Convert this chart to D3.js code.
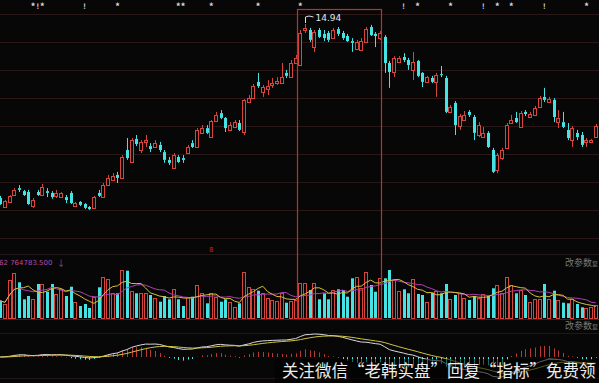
<!DOCTYPE html>
<html>
<head>
<meta charset="utf-8">
<script src="https://cdn.jsdelivr.net/npm/d3@7"></script>
<style>
  html, body { margin: 0; padding: 0; background: #070707; overflow: hidden; }
  svg { display: block; }
</style>
</head>
<body>
<main></main>
<script>
// daily candles, left to right
const opens = [9.14,8.84,9.01,9.24,9.47,9.37,9.34,8.87,9.34,9.24,9.37,9.31,9.21,9.17,9.17,9.31,8.87,9.01,8.94,8.84,
  8.81,9.31,9.17,9.57,9.74,9.91,9.81,10.74,10.34,11.11,10.74,11.01,10.87,10.84,10.91,10.67,10.41,10.14,10.51,10.47,
  10.64,10.97,10.84,11.31,11.47,11.17,11.71,11.97,11.81,11.41,11.51,11.64,11.34,12.34,12.47,13.01,12.67,12.77,12.91,12.97,
  12.97,13.31,13.17,13.64,13.57,14.74,14.74,14.17,14.74,14.61,14.64,14.47,14.77,14.64,14.54,14.37,14.11,14.07,14.34,14.84,
  14.61,14.47,14.51,13.64,13.34,13.67,13.84,13.74,13.41,13.71,13.31,13.01,13.14,13.01,13.27,13.14,12.01,12.31,11.54,11.74,
  12.01,11.84,11.24,11.17,11.31,10.74,10.07,10.47,10.81,11.64,11.81,11.51,12.01,11.84,11.91,12.17,12.51,12.34,12.41,11.67,
  11.67,11.41,11.07,11.31,11.24,11.01,11.01,11.17];
const highs = [9.21,9.07,9.24,9.47,9.57,9.41,9.41,9.14,9.41,9.61,9.47,9.37,9.41,9.34,9.24,9.37,9.01,9.04,8.97,8.87,
  9.21,9.41,9.64,9.91,9.97,10.01,10.57,11.14,11.14,11.24,11.07,11.24,10.97,11.07,11.01,10.74,10.51,10.64,10.57,10.57,
  10.91,11.07,11.47,11.57,11.57,11.74,12.01,12.07,11.84,11.67,11.74,11.74,12.44,12.57,12.94,13.31,12.91,13.07,13.14,13.17,
  13.64,13.41,13.74,13.91,14.74,14.94,14.81,14.74,14.81,14.74,14.71,14.81,14.84,14.71,14.61,14.47,14.41,14.47,14.84,14.91,
  14.67,14.71,14.57,13.71,13.87,13.87,13.97,13.81,14.01,13.74,13.34,13.21,13.21,13.31,13.54,13.21,12.24,12.37,11.94,12.04,
  12.07,11.91,11.67,11.51,11.37,10.81,10.64,10.81,11.64,11.91,12.01,12.04,12.07,12.01,12.21,12.54,12.81,12.51,12.47,12.07,
  12.01,11.64,11.54,11.41,11.34,11.14,11.11,11.61];
const lows = [8.91,8.81,8.97,9.21,9.34,9.21,8.91,8.81,9.21,9.21,9.17,9.11,9.14,9.14,8.97,8.94,8.84,8.87,8.77,8.74,
  8.77,9.17,9.14,9.54,9.71,9.64,9.81,10.41,10.31,10.87,10.64,10.84,10.67,10.81,10.67,10.31,10.24,10.11,10.31,10.31,
  10.61,10.81,10.81,11.27,11.27,11.14,11.67,11.77,11.34,11.37,11.47,11.37,11.24,12.31,12.44,12.81,12.51,12.57,12.81,12.91,
  12.94,13.14,13.14,13.61,13.54,14.64,14.34,14.01,14.47,14.37,14.34,14.44,14.54,14.41,14.34,14.01,14.07,14.04,14.31,14.54,
  14.17,14.41,13.31,12.81,13.17,13.64,13.67,13.41,13.07,13.17,12.84,12.97,12.97,12.51,13.17,11.97,11.97,11.24,11.41,11.71,
  11.84,11.07,11.17,11.14,10.81,9.97,9.97,10.41,10.77,11.61,11.64,11.47,11.87,11.81,11.87,12.14,12.34,12.31,11.67,11.47,
  11.47,11.07,10.84,11.07,10.84,10.84,10.97,11.14];
const closes = [8.94,9.04,9.21,9.41,9.41,9.24,8.94,9.07,9.24,9.51,9.31,9.17,9.31,9.31,9.07,8.97,8.97,8.91,8.81,8.77,
  9.17,9.21,9.57,9.81,9.87,9.81,10.51,10.47,11.07,10.94,11.01,11.07,10.77,10.97,10.74,10.41,10.31,10.57,10.34,10.41,
  10.84,10.84,11.41,11.47,11.31,11.71,11.91,11.81,11.47,11.57,11.67,11.41,12.41,12.47,12.87,12.87,12.84,12.87,12.97,13.04,
  13.17,13.21,13.64,13.81,14.64,14.81,14.41,14.67,14.51,14.47,14.41,14.74,14.61,14.47,14.37,14.31,14.34,14.37,14.77,14.57,
  14.54,14.64,13.64,13.34,13.81,13.81,13.74,13.57,13.67,13.21,13.01,13.17,13.01,13.24,13.24,12.01,12.17,11.57,11.87,11.91,
  11.91,11.31,11.57,11.31,10.84,10.01,10.57,10.74,11.57,11.74,11.67,11.97,11.94,11.94,12.14,12.47,12.41,12.44,11.84,11.81,
  11.51,11.14,11.47,11.17,10.91,11.07,11.07,11.54];
const volumes = [346,280,760,906,714,374,440,374,680,680,526,680,480,574,440,626,326,240,280,200,
  420,614,826,774,506,494,960,946,546,494,506,506,460,394,326,440,374,574,374,240,
  426,426,660,506,294,506,426,326,374,326,226,294,926,626,574,546,506,394,360,346,
  506,306,346,360,700,694,560,694,374,494,374,560,574,560,426,794,814,594,926,660,
  526,794,794,960,760,546,574,494,774,480,460,326,506,546,494,680,374,460,494,394,
  360,440,394,480,440,594,660,506,814,660,494,560,460,326,374,374,680,374,546,360,
  306,294,374,280,214,194,214,260];

// top signal marks (candle index) and their glyphs
const starIdx = [7,9,25,38,39,45,55,64,89,96,106,109,125];
const bangIdx = [8,18,86,103,116];
const boxFrom = 64, boxTo = 81;
const peakIdx = 65, peakText = "14.94";
const volLabel = "62  764783.500";
const paramText = "改参数";
const watermark = "关注微信“老韩实盘”回复“指标”免费领";

const RED = "#d8453c", CYAN = "#45e3e3";
const W = 599, H = 383;

const svg = d3.select("main").append("svg").attr("width", W).attr("height", H)
  .style("background", "#070707")
  .style("font-family", "'Noto Sans CJK SC', 'DejaVu Sans', sans-serif");

const x = d3.scaleLinear().domain([0, closes.length - 1]).range([0.2, 595.8]);
const y = d3.scaleLinear().domain([15.74, 7.74]).range([0, 240]);
const yVol = d3.scaleLinear().domain([0, 960]).range([318, 270]);

const bars = closes.map((c, i) => ({ i, o: opens[i], h: highs[i], l: lows[i], c, v: volumes[i], up: c >= opens[i] }));
const px = i => Math.round(x(i));

// grid
svg.append("g").selectAll("line")
  .data(d3.range(14, 240, 28))
  .join("line")
  .attr("x1", 0).attr("x2", W)
  .attr("y1", d => d + 0.5).attr("y2", d => d + 0.5)
  .attr("stroke", "#2a1717");
svg.append("g").selectAll("line")
  .data([254, 319, 333, 378])
  .join("line")
  .attr("x1", 0).attr("x2", W)
  .attr("y1", d => d + 0.5).attr("y2", d => d + 0.5)
  .attr("stroke", (d, i) => i === 1 ? "#3a2424" : "#221616");

// candles
const cg = svg.append("g");
const candle = cg.selectAll("g").data(bars).join("g");
candle.append("line")
  .attr("x1", d => px(d.i) + 0.5).attr("x2", d => px(d.i) + 0.5)
  .attr("y1", d => y(d.h)).attr("y2", d => d.up ? y(d.c) : y(d.o))
  .attr("stroke", d => d.up ? RED : CYAN);
candle.append("line")
  .attr("x1", d => px(d.i) + 0.5).attr("x2", d => px(d.i) + 0.5)
  .attr("y1", d => d.up ? y(d.o) : y(d.c)).attr("y2", d => y(d.l))
  .attr("stroke", d => d.up ? RED : CYAN);
candle.append("rect")
  .attr("x", d => px(d.i) - 1)
  .attr("width", 3)
  .attr("y", d => d.up ? Math.round(y(d.c)) + 0.5 : y(d.o))
  .attr("height", d => Math.max(1, d.up ? Math.round(y(d.o) - y(d.c)) : y(d.c) - y(d.o)))
  .attr("fill", d => d.up ? "#070707" : CYAN)
  .attr("stroke", d => d.up ? RED : "none")
  .attr("transform", d => d.up ? "translate(-0.5,0)" : null);

// volume bars
svg.append("g").selectAll("rect").data(bars).join("rect")
  .attr("x", d => d.up ? px(d.i) - 1.5 : px(d.i) - 1)
  .attr("width", 3)
  .attr("y", d => d.up ? Math.round(yVol(d.v)) + 0.5 : yVol(d.v))
  .attr("height", d => d.up ? Math.round(318 - yVol(d.v)) : 318 - yVol(d.v))
  .attr("fill", d => d.up ? "none" : CYAN)
  .attr("stroke", d => d.up ? RED : "none");

const ma = (arr, n) => arr.map((v, i) => d3.mean(arr.slice(Math.max(0, i - n + 1), i + 1)));
const volLine = d3.line().x((d, i) => x(i)).y(d => yVol(d));
svg.append("path").attr("d", volLine(ma(volumes, 10)))
  .attr("fill", "none").attr("stroke", "#b43cb4").attr("stroke-width", 1);
svg.append("path").attr("d", volLine(ma(volumes, 5)))
  .attr("fill", "none").attr("stroke", "#d6c23a").attr("stroke-width", 1);

// MACD
const ema = (arr, n) => { const k = 2 / (n + 1); let e = arr[0]; return arr.map(v => (e = e + k * (v - e))); };
const e12 = ema(closes, 12), e26 = ema(closes, 26);
const dif = e12.map((v, i) => v - e26[i]);
const dea = ema(dif, 9);
const hist = dif.map((v, i) => 2 * (v - dea[i]));
const m = d3.max(dif, Math.abs);
const yM = d3.scaleLinear().domain([-m, m]).range([357 + 23, 357 - 23]);

svg.append("g").selectAll("line").data(hist).join("line")
  .attr("x1", (d, i) => px(i) + 0.5).attr("x2", (d, i) => px(i) + 0.5)
  .attr("y1", yM(0)).attr("y2", d => yM(d))
  .attr("stroke", d => d >= 0 ? "#b83a34" : CYAN);
const mLine = d3.line().x((d, i) => x(i)).y(d => yM(d));
svg.append("path").attr("d", mLine(dif)).attr("fill", "none").attr("stroke", "#d8d8e0");
svg.append("path").attr("d", mLine(dea)).attr("fill", "none").attr("stroke", "#d2c43c");

// highlight box
svg.append("rect")
  .attr("x", px(boxFrom) - 2.5).attr("y", 9.5)
  .attr("width", px(boxTo) - px(boxFrom) + 4).attr("height", 309)
  .attr("fill", "none").attr("stroke", "#cc2a24").attr("stroke-width", 1.2);

// top marks
svg.append("g").selectAll("text").data(starIdx).join("text")
  .attr("x", d => x(d)).attr("y", 10).attr("text-anchor", "middle")
  .attr("fill", "#e0e0e0").attr("font-size", 9).attr("font-weight", "bold").text("*");
svg.append("g").selectAll("text").data(bangIdx).join("text")
  .attr("x", d => x(d)).attr("y", 9).attr("text-anchor", "middle")
  .attr("fill", "#e0e0e0").attr("font-size", 7).attr("font-weight", "bold").text("!");

// peak label
const pk = px(peakIdx) + 0.5;
svg.append("path")
  .attr("d", `M${pk},${y(highs[peakIdx]) - 1}L${pk},17Q${pk + 3},15 ${pk + 8},17`)
  .attr("fill", "none").attr("stroke", "#e0e0e0");
svg.append("text").attr("x", pk + 10).attr("y", 21)
  .attr("fill", "#e8e8e8").attr("font-size", 9).attr("font-family", "'DejaVu Sans', sans-serif")
  .text(peakText);

// small red mark under the chart
svg.append("text").attr("x", x(45)).attr("y", 252).attr("text-anchor", "middle")
  .attr("fill", "#d03030").attr("font-size", 7).text("8");

// panel labels
svg.append("text").attr("x", -1).attr("y", 265)
  .attr("fill", "#b04ab0").attr("font-size", 7).attr("font-family", "'DejaVu Sans', sans-serif")
  .text(volLabel);
svg.append("text").attr("x", 57).attr("y", 266)
  .attr("fill", "#c04060").attr("font-size", 8).text("↓");
[266, 329].forEach(yy => {
  svg.append("text").attr("x", 565).attr("y", yy)
    .attr("fill", "#7a7a7a").attr("font-size", 9).text(paramText);
  svg.append("text").attr("x", 592).attr("y", yy)
    .attr("fill", "#7a7a7a").attr("font-size", 6).text("复");
});

// watermark
svg.append("rect").attr("x", 275).attr("y", 359).attr("width", W - 275).attr("height", H - 359)
  .attr("fill", "#000").attr("opacity", 0.55);
svg.append("text").attr("x", 282).attr("y", 377)
  .attr("fill", "#ececec").attr("font-size", 16.5)
  .text(watermark);
</script>
</body>
</html>
